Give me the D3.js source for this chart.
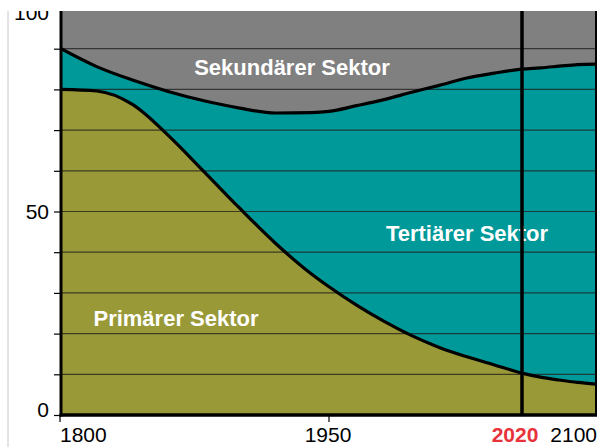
<!DOCTYPE html>
<html>
<head>
<meta charset="utf-8">
<script src="https://cdn.jsdelivr.net/npm/d3@7"></script>
<style>
  body { margin: 0; background: #fff; }
  svg { display: block; font-family: "Liberation Sans", Arial, sans-serif; }
</style>
</head>
<body>
<svg id="chart" width="601" height="447"></svg>
<script>
// Anteile der Sektoren in Prozent
const years = [1800, 1820, 1840, 1860, 1880, 1900, 1920, 1940, 1950, 1960, 1970, 1980, 1990, 2000, 2010, 2020, 2040, 2060, 2080, 2100];
const primaer = [80, 79.6, 76.3, 68.7, 59.8, 50.8, 42.2, 34.7, 31.5, 27.0, 23.0, 19.5, 16.6, 14.3, 12.3, 10.3, 9.3, 8.6, 8.0, 7.6];
const tertiaer = [10, 6.0, 6.0, 10.8, 17.4, 24.6, 32.0, 39.6, 43.1, 49.0, 54.5, 59.8, 64.4, 68.5, 71.7, 74.7, 76.0, 77.1, 78.1, 78.6];
const sekundaer = [10, 14.4, 17.7, 20.5, 22.8, 24.6, 25.8, 25.7, 25.4, 24.0, 22.5, 20.7, 19.0, 17.2, 16.0, 15.0, 14.7, 14.3, 13.9, 13.8];

const xTickYears = [1800, 1950, 2020, 2100];
const yTickValues = d3.range(0, 101, 10);
const yLabels = [0, 50, 100];
const markerYear = 2020;

const sectors = [
    { key: 'primaer', name: 'Primärer Sektor', color: '#9a9937' },
    { key: 'tertiaer', name: 'Tertiärer Sektor', color: '#009999' },
    { key: 'sekundaer', name: 'Sekundärer Sektor', color: '#808080' }
];

const table = years.map((yr, i) => ({ year: yr, primaer: primaer[i], tertiaer: tertiaer[i], sekundaer: sekundaer[i] }));

const svg = d3.select('#chart');
const plotLeft = 61, plotRight = 596, plotTop = 11, plotBottom = 415;

// Achse ist nicht gleichmaessig geteilt
const x = d3.scaleLinear().domain([1800, 1950, 2020, 2100]).range([plotLeft, 329, 522, plotRight]);
const y = d3.scaleLinear().domain([0, 100]).range([plotBottom, 8]);

svg.append('rect').attr('width', 601).attr('height', 447).attr('fill', '#fff');

// duenne Rahmenlinie links
svg.append('line')
    .attr('x1', 8).attr('x2', 8).attr('y1', plotTop).attr('y2', 447)
    .attr('stroke', '#c8c8c8').attr('stroke-width', 1);

svg.append('clipPath').attr('id', 'plot-clip')
    .append('rect').attr('x', plotLeft).attr('y', plotTop)
    .attr('width', plotRight - plotLeft).attr('height', plotBottom - plotTop);

const g = svg.append('g').attr('clip-path', 'url(#plot-clip)');

const stack = d3.stack().keys(sectors.map(s => s.key));
const layers = stack(table);

const area = d3.area()
    .curve(d3.curveMonotoneX)
    .x(d => x(d.data.year))
    .y0(d => y(d[0]))
    .y1(d => y(d[1]));

g.selectAll('.layer')
    .data(layers)
    .enter()
    .append('path')
    .attr('class', 'layer')
    .attr('fill', (d, i) => sectors[i].color)
    .attr('d', area);

// Hilfslinien
g.selectAll('.grid')
    .data(yTickValues.filter(v => v > 0 && v < 100))
    .enter()
    .append('line')
    .attr('class', 'grid')
    .attr('x1', plotLeft).attr('x2', plotRight)
    .attr('y1', d => y(d)).attr('y2', d => y(d))
    .attr('stroke', '#1e1e1e')
    .attr('stroke-opacity', 0.75)
    .attr('stroke-width', 1.2);

const line = d3.line()
    .curve(d3.curveMonotoneX)
    .x(d => x(d.data.year))
    .y(d => y(d[1]));

g.selectAll('.boundary')
    .data(layers.slice(0, 2))
    .enter()
    .append('path')
    .attr('class', 'boundary')
    .attr('fill', 'none')
    .attr('stroke', '#000')
    .attr('stroke-width', 3.2)
    .attr('d', line);

const labels = [
    { text: 'Sekundärer Sektor', x: 292, y: 75 },
    { text: 'Tertiärer Sektor', x: 467, y: 241 },
    { text: 'Primärer Sektor', x: 176, y: 326 }
];

g.selectAll('.sector-label')
    .data(labels)
    .enter()
    .append('text')
    .attr('class', 'sector-label')
    .attr('x', d => d.x)
    .attr('y', d => d.y)
    .attr('text-anchor', 'middle')
    .attr('fill', '#fff')
    .style('font-size', '22px')
    .style('font-weight', 'bold')
    .text(d => d.text);

// Markierung 2020
g.append('line')
    .attr('x1', x(markerYear)).attr('x2', x(markerYear))
    .attr('y1', plotTop).attr('y2', plotBottom)
    .attr('stroke', '#000').attr('stroke-width', 3.5);

// rechter Rand
svg.append('line')
    .attr('x1', plotRight).attr('x2', plotRight).attr('y1', plotTop).attr('y2', plotBottom)
    .attr('stroke', '#000').attr('stroke-width', 2);

// y-Achse
const yAxis = svg.append('g')
    .attr('transform', `translate(${plotLeft},0)`)
    .call(d3.axisLeft(y).tickValues(yTickValues).tickSize(7).tickPadding(5)
        .tickFormat(d => yLabels.includes(d) ? d : ''));
yAxis.select('.domain').remove();
yAxis.selectAll('.tick line').attr('stroke', '#000').attr('stroke-width', 1.2);
yAxis.selectAll('.tick text')
    .attr('fill', '#000')
    .style('font-size', '21px')
    .style('font-family', '"Liberation Sans", Arial, sans-serif');
yAxis.selectAll('.tick').filter(d => d === 100).select('text').attr('dy', '0.57em');
yAxis.selectAll('.tick').filter(d => d === 0).select('text').attr('dy', '0.05em');

svg.append('line')
    .attr('x1', plotLeft).attr('x2', plotLeft).attr('y1', plotTop).attr('y2', plotBottom + 1.5)
    .attr('stroke', '#000').attr('stroke-width', 3);

// x-Achse
svg.append('line')
    .attr('x1', plotLeft - 1.5).attr('x2', plotRight + 1).attr('y1', plotBottom).attr('y2', plotBottom)
    .attr('stroke', '#000').attr('stroke-width', 3.5);

svg.selectAll('.xtick')
    .data([1800, 1950])
    .enter()
    .append('line')
    .attr('class', 'xtick')
    .attr('x1', d => x(d) - (d === 1800 ? 1 : 0)).attr('x2', d => x(d) - (d === 1800 ? 1 : 0))
    .attr('y1', plotBottom).attr('y2', plotBottom + 7)
    .attr('stroke', '#000').attr('stroke-width', 1.2);

const anchorFor = { 1800: 'start', 1950: 'middle', 2020: 'middle', 2100: 'end' };
const shiftFor = { 1800: -1, 1950: -1, 2020: -7, 2100: 1 };

svg.selectAll('.xlabel')
    .data(xTickYears)
    .enter()
    .append('text')
    .attr('class', 'xlabel')
    .attr('x', d => x(d) + shiftFor[d])
    .attr('y', 442)
    .attr('text-anchor', d => anchorFor[d])
    .attr('fill', d => d === markerYear ? '#e8323c' : '#000')
    .style('font-size', '21px')
    .style('font-weight', d => d === markerYear ? 'bold' : 'normal')
    .text(d => d);

// oberer Bildrand abgeschnitten
svg.append('rect').attr('x', 0).attr('y', 0).attr('width', 601).attr('height', plotTop).attr('fill', '#fff');
</script>
</body>
</html>
